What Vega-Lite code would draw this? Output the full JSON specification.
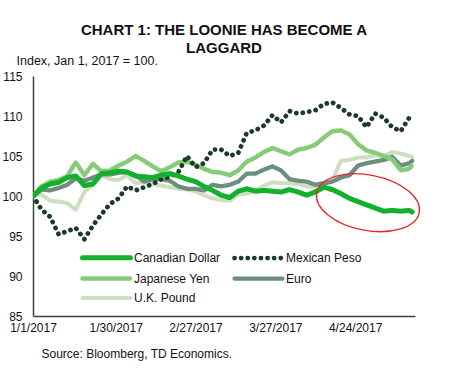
{
  "$schema": "https://vega.github.io/schema/vega-lite/v6.json",
  "width": 382,
  "height": 240,
  "autosize": {"type": "none"},
  "padding": {"left": 33, "top": 76, "right": 35, "bottom": 61},
  "background": "white",
  "config": {
    "font": "Liberation Sans",
    "view": {"stroke": null},
    "title": {"font": "Liberation Sans"},
    "axis": {"labelOverlap": false}
  },
  "title": {
    "text": ["CHART 1: THE LOONIE HAS BECOME A", "LAGGARD"],
    "fontSize": 15,
    "fontWeight": "bold",
    "color": "#111111",
    "anchor": "middle",
    "lineHeight": 18,
    "offset": -2
  },
  "datasets": {
    "fx": [
      {"date": "2017/01/01", "CAD": 100, "MXN": 100, "JPY": 100, "EUR": 100, "GBP": 100},
      {"date": "2017/01/04", "CAD": 101.0, "MXN": 98.3, "JPY": 101.2, "EUR": 100.8, "GBP": 100.2},
      {"date": "2017/01/07", "CAD": 101.5, "MXN": 97.4, "JPY": 101.8, "EUR": 100.7, "GBP": 99.4},
      {"date": "2017/01/10", "CAD": 101.7, "MXN": 95.2, "JPY": 102.0, "EUR": 101.0, "GBP": 99.3},
      {"date": "2017/01/13", "CAD": 102.3, "MXN": 95.6, "JPY": 102.5, "EUR": 101.4, "GBP": 99.1},
      {"date": "2017/01/16", "CAD": 102.5, "MXN": 96.0, "JPY": 104.2, "EUR": 102.2, "GBP": 98.3},
      {"date": "2017/01/19", "CAD": 101.3, "MXN": 94.6, "JPY": 102.6, "EUR": 101.9, "GBP": 100.5},
      {"date": "2017/01/22", "CAD": 101.5, "MXN": 96.3, "JPY": 104.0, "EUR": 102.3, "GBP": 101.4},
      {"date": "2017/01/25", "CAD": 102.8, "MXN": 97.7, "JPY": 103.1, "EUR": 102.7, "GBP": 102.6},
      {"date": "2017/01/28", "CAD": 102.9, "MXN": 99.0, "JPY": 103.2, "EUR": 102.7, "GBP": 102.1},
      {"date": "2017/01/31", "CAD": 103.1, "MXN": 99.7, "JPY": 103.8, "EUR": 102.9, "GBP": 102.0},
      {"date": "2017/02/03", "CAD": 103.0, "MXN": 101.2, "JPY": 104.3, "EUR": 103.0, "GBP": 102.6},
      {"date": "2017/02/06", "CAD": 102.5, "MXN": 100.7, "JPY": 105.0, "EUR": 102.6, "GBP": 101.6},
      {"date": "2017/02/09", "CAD": 102.4, "MXN": 101.1, "JPY": 104.4, "EUR": 101.8, "GBP": 101.7},
      {"date": "2017/02/12", "CAD": 102.3, "MXN": 101.5, "JPY": 103.7, "EUR": 102.1, "GBP": 101.5},
      {"date": "2017/02/15", "CAD": 102.6, "MXN": 102.1, "JPY": 103.1, "EUR": 102.1, "GBP": 101.3},
      {"date": "2017/02/18", "CAD": 102.8, "MXN": 102.4, "JPY": 103.6, "EUR": 101.9, "GBP": 101.1},
      {"date": "2017/02/21", "CAD": 102.5, "MXN": 103.0, "JPY": 104.2, "EUR": 101.2, "GBP": 100.9},
      {"date": "2017/02/24", "CAD": 102.1, "MXN": 105.0, "JPY": 104.3, "EUR": 100.9, "GBP": 100.8},
      {"date": "2017/02/27", "CAD": 101.8, "MXN": 103.6, "JPY": 103.9, "EUR": 100.9, "GBP": 100.6},
      {"date": "2017/03/02", "CAD": 101.2, "MXN": 104.1, "JPY": 103.4, "EUR": 100.7, "GBP": 100.1},
      {"date": "2017/03/05", "CAD": 100.7, "MXN": 105.8, "JPY": 103.0, "EUR": 101.4, "GBP": 99.7},
      {"date": "2017/03/08", "CAD": 100.1, "MXN": 105.8, "JPY": 102.9, "EUR": 101.2, "GBP": 99.5},
      {"date": "2017/03/11", "CAD": 99.8, "MXN": 105.0, "JPY": 102.6, "EUR": 101.4, "GBP": 99.4},
      {"date": "2017/03/14", "CAD": 100.6, "MXN": 105.4, "JPY": 103.2, "EUR": 101.8, "GBP": 100.2},
      {"date": "2017/03/17", "CAD": 100.9, "MXN": 107.9, "JPY": 104.3, "EUR": 102.8, "GBP": 100.3},
      {"date": "2017/03/20", "CAD": 100.6, "MXN": 108.2, "JPY": 104.8, "EUR": 102.8, "GBP": 100.7},
      {"date": "2017/03/23", "CAD": 100.7, "MXN": 108.8, "JPY": 105.5, "EUR": 103.3, "GBP": 101.3},
      {"date": "2017/03/26", "CAD": 100.6, "MXN": 110.1, "JPY": 106.0, "EUR": 103.7, "GBP": 101.7},
      {"date": "2017/03/29", "CAD": 100.5, "MXN": 109.2, "JPY": 105.6, "EUR": 103.2, "GBP": 101.6},
      {"date": "2017/04/01", "CAD": 100.8, "MXN": 110.6, "JPY": 105.2, "EUR": 102.1, "GBP": 101.6},
      {"date": "2017/04/04", "CAD": 100.5, "MXN": 110.3, "JPY": 105.8, "EUR": 101.9, "GBP": 101.5},
      {"date": "2017/04/07", "CAD": 100.1, "MXN": 110.5, "JPY": 106.0, "EUR": 101.8, "GBP": 101.2},
      {"date": "2017/04/10", "CAD": 100.5, "MXN": 110.7, "JPY": 106.4, "EUR": 101.4, "GBP": 101.2},
      {"date": "2017/04/13", "CAD": 101.1, "MXN": 111.5, "JPY": 107.3, "EUR": 101.6, "GBP": 101.4},
      {"date": "2017/04/16", "CAD": 100.8, "MXN": 111.7, "JPY": 108.1, "EUR": 101.8, "GBP": 102.0},
      {"date": "2017/04/19", "CAD": 100.3, "MXN": 111.0, "JPY": 108.2, "EUR": 102.3, "GBP": 104.4},
      {"date": "2017/04/22", "CAD": 99.7, "MXN": 110.2, "JPY": 107.7, "EUR": 102.6, "GBP": 104.5},
      {"date": "2017/04/25", "CAD": 99.3, "MXN": 110.0, "JPY": 106.5, "EUR": 103.8, "GBP": 104.8},
      {"date": "2017/04/28", "CAD": 98.9, "MXN": 108.6, "JPY": 105.7, "EUR": 104.1, "GBP": 104.8},
      {"date": "2017/05/01", "CAD": 98.5, "MXN": 110.3, "JPY": 105.4, "EUR": 104.3, "GBP": 105.1},
      {"date": "2017/05/04", "CAD": 98.1, "MXN": 109.8, "JPY": 105.0, "EUR": 104.5, "GBP": 105.0},
      {"date": "2017/05/07", "CAD": 98.2, "MXN": 108.6, "JPY": 104.6, "EUR": 104.9, "GBP": 105.5},
      {"date": "2017/05/10", "CAD": 98.1, "MXN": 108.1, "JPY": 103.2, "EUR": 103.8, "GBP": 105.3},
      {"date": "2017/05/13", "CAD": 98.2, "MXN": 109.8, "JPY": 103.4, "EUR": 104.1, "GBP": 105.0},
      {"date": "2017/05/14", "CAD": 98.0, "MXN": 110.3, "JPY": 103.9, "EUR": 104.4, "GBP": 104.9}
    ],
    "note": [
      {"date": "2017/04/28 12:00", "value": 99.16}
    ]
  },
  "encoding": {
    "x": {
      "field": "date",
      "type": "temporal",
      "scale": {"domain": [{"year": 2017, "month": 1, "date": 1}, {"year": 2017, "month": 5, "date": 15}]},
      "axis": {
        "values": [
          {"year": 2017, "month": 1, "date": 1},
          {"year": 2017, "month": 1, "date": 30},
          {"year": 2017, "month": 2, "date": 27},
          {"year": 2017, "month": 3, "date": 27},
          {"year": 2017, "month": 4, "date": 24}
        ],
        "format": "%-m/%-d/%Y",
        "ticks": false,
        "grid": false,
        "labelFontSize": 12,
        "labelColor": "#111111",
        "labelPadding": 6,
        "labelFlush": false,
        "labelOverlap": false,
        "domainColor": "#404040",
        "domainWidth": 1.5,
        "title": "Source: Bloomberg, TD Economics.",
        "titleFontSize": 12,
        "titleFontWeight": "normal",
        "titleColor": "#111111",
        "titleAlign": "left",
        "titleAnchor": "start",
        "titleBaseline": "alphabetic",
        "titleX": 8,
        "titleY": 41
      }
    },
    "y": {
      "field": "value",
      "type": "quantitative",
      "scale": {"domain": [85, 115], "zero": false, "nice": false},
      "axis": {
        "values": [85, 90, 95, 100, 105, 110, 115],
        "ticks": false,
        "grid": false,
        "labelFontSize": 12,
        "labelColor": "#111111",
        "labelPadding": 11,
        "labelOverlap": false,
        "labelFlush": false,
        "domainColor": "#404040",
        "domainWidth": 1.5,
        "title": "Index, Jan 1, 2017 = 100.",
        "titleAngle": 0,
        "titleFontSize": 12.5,
        "titleFontWeight": "normal",
        "titleColor": "#111111",
        "titleAlign": "left",
        "titleBaseline": "alphabetic",
        "titleX": -17,
        "titleY": -12
      }
    }
  },
  "layer": [
    {
      "data": {"name": "fx"},
      "transform": [
        {"fold": ["GBP", "EUR", "JPY", "MXN", "CAD"], "as": ["currency", "value"]}
      ],
      "mark": {"type": "line", "strokeCap": "round", "strokeJoin": "round", "clip": true},
      "encoding": {
        "color": {
          "field": "currency",
          "type": "nominal",
          "scale": {
            "domain": ["CAD", "MXN", "JPY", "EUR", "GBP"],
            "range": ["#12b02c", "#1c3a28", "#86cc78", "#6d8d7d", "#cddfbf"]
          },
          "legend": {
            "orient": "none",
            "legendX": 63,
            "legendY": 171,
            "columns": 2,
            "direction": "horizontal",
            "title": null,
            "symbolType": "M-3,0L3,0",
            "symbolSize": 256,
            "labelFontSize": 12,
            "labelColor": "#111111",
            "labelOffset": 17,
            "columnPadding": 4,
            "rowPadding": -8,
            "labelLimit": 200,
            "labelExpr": "{'CAD':'Canadian Dollar','MXN':'Mexican Peso','JPY':'Japanese Yen','EUR':'Euro','GBP':'U.K. Pound'}[datum.label]",
            "encode": {
              "symbols": {"update": {"strokeCap": {"value": "round"}}}
            }
          }
        },
        "strokeDash": {
          "field": "currency",
          "type": "nominal",
          "scale": {
            "domain": ["CAD", "MXN", "JPY", "EUR", "GBP"],
            "range": [[1, 0], [0.1, 6.5], [2.5, 2], [1, 0], [1, 0]]
          },
          "legend": null
        },
        "strokeWidth": {
          "field": "currency",
          "type": "nominal",
          "scale": {
            "domain": ["CAD", "MXN", "JPY", "EUR", "GBP"],
            "range": [5, 4, 3, 4.5, 5]
          },
          "legend": null
        }
      }
    },
    {
      "data": {"name": "note"},
      "mark": {
        "type": "point",
        "shape": "M-1,0A1,0.53,0,1,0,1,0A1,0.53,0,1,0,-1,0Z",
        "size": 10900,
        "angle": 11,
        "filled": false,
        "stroke": "#e8262a",
        "strokeWidth": 1.3,
        "opacity": 1
      }
    }
  ]
}
